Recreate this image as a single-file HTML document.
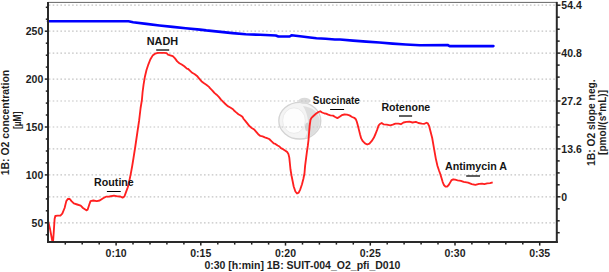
<!DOCTYPE html>
<html><head><meta charset="utf-8"><style>
html,body{margin:0;padding:0;background:#fff;width:609px;height:272px;overflow:hidden}
svg{display:block}
.t{font-family:"Liberation Sans",sans-serif;font-weight:bold;font-size:10.5px;fill:#1e1e1e}
.a{font-family:"Liberation Sans",sans-serif;font-weight:bold;font-size:10px;fill:#141414}
</style></head><body>
<svg width="609" height="272" viewBox="0 0 609 272">
<defs><filter id="bl" x="-20%" y="-20%" width="140%" height="140%"><feGaussianBlur stdDeviation="0.5"/></filter></defs>
<g filter="url(#bl)"><ellipse cx="299.8" cy="120.7" rx="21" ry="18.3" fill="#f4f4f4" stroke="#d3d3d3" stroke-width="1.3"/><ellipse cx="294" cy="120.6" rx="11.4" ry="12.8" fill="#fdfdfd" stroke="#ebebeb" stroke-width="1"/><path d="M303,106 Q318,108 320,121 Q319,134 305,138 Q309,130 308,121 Q307,112 303,106 Z" fill="#dedede"/><ellipse cx="308" cy="127" rx="3" ry="4.5" fill="#d2d2d2"/><ellipse cx="304.5" cy="100.8" rx="6" ry="3" fill="#dadada"/></g>
<line x1="48.8" y1="31.2" x2="555.3" y2="31.2" stroke="#c4c4c4" stroke-width="1.2" stroke-dasharray="1.6 2.28"/>
<line x1="48.8" y1="79.1" x2="555.3" y2="79.1" stroke="#c4c4c4" stroke-width="1.2" stroke-dasharray="1.6 2.28"/>
<line x1="48.8" y1="127.0" x2="555.3" y2="127.0" stroke="#c4c4c4" stroke-width="1.2" stroke-dasharray="1.6 2.28"/>
<line x1="48.8" y1="174.9" x2="555.3" y2="174.9" stroke="#c4c4c4" stroke-width="1.2" stroke-dasharray="1.6 2.28"/>
<line x1="48.8" y1="222.8" x2="555.3" y2="222.8" stroke="#c4c4c4" stroke-width="1.2" stroke-dasharray="1.6 2.28"/>
<line x1="48.8" y1="5.2" x2="555.3" y2="5.2" stroke="#c4c4c4" stroke-width="1.2" stroke-dasharray="1.6 2.28"/>
<line x1="48.8" y1="53.1" x2="555.3" y2="53.1" stroke="#c4c4c4" stroke-width="1.2" stroke-dasharray="1.6 2.28"/>
<line x1="48.8" y1="101.0" x2="555.3" y2="101.0" stroke="#c4c4c4" stroke-width="1.2" stroke-dasharray="1.6 2.28"/>
<line x1="48.8" y1="148.9" x2="555.3" y2="148.9" stroke="#c4c4c4" stroke-width="1.2" stroke-dasharray="1.6 2.28"/>
<line x1="48.8" y1="196.8" x2="555.3" y2="196.8" stroke="#c4c4c4" stroke-width="1.2" stroke-dasharray="1.6 2.28"/>
<polyline fill="none" stroke="#0000ff" stroke-width="2.6" stroke-linejoin="round" stroke-linecap="round" points="48,21.3 128.5,21.3 133.1,22.2 146.3,23.9 159.4,25.5 172.6,26.9 185.7,28.2 200,29.6 206.3,30.4 232.6,33.1 245.7,34.3 260,34.8 275.8,35.5 278.4,36.5 289.6,36.5 291.5,35.3 302,36.5 310,37.5 316.5,38.2 325.7,38.8 334.9,39.5 340,39.5 353.1,40.6 366.3,41.6 379.4,42.5 392.6,43.6 405.7,44.5 420,45.2 447.6,45 449.6,46.1 493.4,46.1"/>
<polyline fill="none" stroke="#ff2020" stroke-width="1.85" stroke-linejoin="round" points="48,220.8 50.1,229.3 51.6,237.4 52.4,241.5 53.1,241 53.8,231.5 54.6,219 55.3,216 57.5,215.6 60.4,215.6 62.3,213.7 64.6,208 66.3,201.1 68,198.8 69.8,199 71.5,201.1 73.8,203.4 77.2,204.5 80.7,205.7 83,208 86.4,210.3 87.6,209.7 89.3,204.5 90.5,201.1 93.3,200.5 96.8,201.1 99.7,200.5 103.1,198.2 106,196.7 109.4,196.5 114,195.6 117.5,196.3 120.3,196.5 122.6,197.6 124.4,196.5 126.1,191.9 127.8,187.3 129.8,178.6 130.9,173.1 132.2,166 133.5,158 135.3,146.5 137.2,133.5 139.1,120.7 140.6,108 141.9,100 142.6,92 143.6,84.3 144.9,76.7 146.5,70 148.4,64.3 150.3,59.5 152.6,55.6 155.1,53.7 157.9,52.8 164,52.9 166.6,53.1 168,54.6 170.2,55.3 172.8,56.2 175,58.4 177.2,61.4 179.4,63.2 181.7,64.5 184.3,66.3 186.9,68.6 188.2,69 190.4,71.1 192.2,72.8 194.8,74.2 197,75.9 199.2,78.6 201.4,81.2 203.7,83 206.3,84.7 209,86.9 210,88.2 212.2,90.3 214.4,92.9 216.6,94.7 218.8,96.9 221,99.6 223.2,101.8 225.4,104 227.7,106.2 230.3,107.5 233,109.2 234,110.5 236.2,112.4 238.4,114.2 240.6,115.5 242.4,116.8 243.7,119 245.5,121.2 247.7,123.9 249.4,126.1 251.7,127.9 254.3,129.6 256,131.6 258.2,134.2 260.4,135.9 262.6,136.4 264.8,137.3 267,138.1 269.2,139 271.4,141.2 273.7,143.4 275.4,143.9 277.6,145.5 279.5,146.5 280.9,148.1 283.1,149.2 285.4,150.7 287.2,152.1 288.4,153.9 289.3,157.6 289.9,163.5 290.5,169.5 291.5,175.5 292.6,181 293.7,186.5 295.4,191.5 297,193.5 298.7,192.6 300.3,189.3 302,184.3 303.4,178.8 304.5,173.3 305.1,165.9 306,158.8 306.9,151.8 307.8,145.9 308.5,140 309,133.5 309.6,126 310.5,119.8 311.5,117.9 313.4,116 315.9,113.8 318.4,112 320.3,111.3 322.1,112.5 324.6,113.5 326,113.6 328.2,114.7 330.4,115.4 333,115.6 335.2,117 337.4,118.1 339.6,116.7 341.8,115.2 344.4,114.5 347,114.7 349.5,115.4 352.1,117 354.3,117.8 355.8,119.2 356.9,122 357.9,125.7 359,130.1 360.1,134.5 361.2,138.4 362.8,141.2 365,143.4 367.2,144.5 369.4,143.6 371.6,141.2 373.8,137.8 375.5,134 377.2,129.6 378.5,125.7 379.9,124 381.7,123 383.8,124.4 386.8,124.7 390.2,125.3 392.8,124.7 395.4,123.6 398.4,123.6 400.9,124.2 403.5,122.5 406.5,121.9 409.5,121.7 412.5,122.5 415.9,121.9 418.4,123 421.8,123.6 424.4,123.8 426.5,122.7 427.8,123.4 429.1,126 430.4,131.1 432.2,138 434,148.3 435.8,158.6 437.5,166 439,170.5 440.3,174 441.5,178.1 442.7,182.1 443.9,185 445.5,186.6 447.1,186.6 448.7,185 450.4,182.1 451.6,180.1 453.2,179.3 455.2,179.7 457.6,180.3 460.9,180.9 463.7,181.9 468.1,182.7 471.8,184.1 475.4,184.9 479.1,183.9 482.1,183.6 484.3,184.1 487.2,183.4 490.1,183.2 492.7,182.4"/>
<line x1="48" y1="2.4" x2="556.8" y2="2.4" stroke="#666" stroke-width="1"/>
<line x1="48" y1="1.9" x2="48" y2="243" stroke="#2a2a2a" stroke-width="2"/>
<line x1="556.8" y1="1.9" x2="556.8" y2="243" stroke="#2a2a2a" stroke-width="2"/>
<line x1="47" y1="242" x2="557.8" y2="242" stroke="#2a2a2a" stroke-width="2"/>
<line x1="45.8" y1="234.8" x2="48" y2="234.8" stroke="#222" stroke-width="1.5"/>
<line x1="44.8" y1="222.8" x2="48" y2="222.8" stroke="#222" stroke-width="1.5"/>
<text x="43.3" y="226.6" text-anchor="end" class="t">50</text>
<line x1="45.8" y1="210.8" x2="48" y2="210.8" stroke="#222" stroke-width="1.5"/>
<line x1="45.8" y1="198.9" x2="48" y2="198.9" stroke="#222" stroke-width="1.5"/>
<line x1="45.8" y1="186.9" x2="48" y2="186.9" stroke="#222" stroke-width="1.5"/>
<line x1="44.8" y1="174.9" x2="48" y2="174.9" stroke="#222" stroke-width="1.5"/>
<text x="43.3" y="178.7" text-anchor="end" class="t">100</text>
<line x1="45.8" y1="162.9" x2="48" y2="162.9" stroke="#222" stroke-width="1.5"/>
<line x1="45.8" y1="151.0" x2="48" y2="151.0" stroke="#222" stroke-width="1.5"/>
<line x1="45.8" y1="139.0" x2="48" y2="139.0" stroke="#222" stroke-width="1.5"/>
<line x1="44.8" y1="127.0" x2="48" y2="127.0" stroke="#222" stroke-width="1.5"/>
<text x="43.3" y="130.8" text-anchor="end" class="t">150</text>
<line x1="45.8" y1="115.0" x2="48" y2="115.0" stroke="#222" stroke-width="1.5"/>
<line x1="45.8" y1="103.1" x2="48" y2="103.1" stroke="#222" stroke-width="1.5"/>
<line x1="45.8" y1="91.1" x2="48" y2="91.1" stroke="#222" stroke-width="1.5"/>
<line x1="44.8" y1="79.1" x2="48" y2="79.1" stroke="#222" stroke-width="1.5"/>
<text x="43.3" y="82.9" text-anchor="end" class="t">200</text>
<line x1="45.8" y1="67.1" x2="48" y2="67.1" stroke="#222" stroke-width="1.5"/>
<line x1="45.8" y1="55.2" x2="48" y2="55.2" stroke="#222" stroke-width="1.5"/>
<line x1="45.8" y1="43.2" x2="48" y2="43.2" stroke="#222" stroke-width="1.5"/>
<line x1="44.8" y1="31.2" x2="48" y2="31.2" stroke="#222" stroke-width="1.5"/>
<text x="43.3" y="35.0" text-anchor="end" class="t">250</text>
<line x1="45.8" y1="19.2" x2="48" y2="19.2" stroke="#222" stroke-width="1.5"/>
<line x1="45.8" y1="7.3" x2="48" y2="7.3" stroke="#222" stroke-width="1.5"/>
<line x1="556.8" y1="232.7" x2="559.6999999999999" y2="232.7" stroke="#222" stroke-width="1.5"/>
<line x1="556.8" y1="220.8" x2="559.6999999999999" y2="220.8" stroke="#222" stroke-width="1.5"/>
<line x1="556.8" y1="208.8" x2="559.6999999999999" y2="208.8" stroke="#222" stroke-width="1.5"/>
<line x1="556.8" y1="196.8" x2="560.5" y2="196.8" stroke="#222" stroke-width="1.5"/>
<text x="561.3" y="200.6" class="t">0</text>
<line x1="556.8" y1="184.8" x2="559.6999999999999" y2="184.8" stroke="#222" stroke-width="1.5"/>
<line x1="556.8" y1="172.9" x2="559.6999999999999" y2="172.9" stroke="#222" stroke-width="1.5"/>
<line x1="556.8" y1="160.9" x2="559.6999999999999" y2="160.9" stroke="#222" stroke-width="1.5"/>
<line x1="556.8" y1="148.9" x2="560.5" y2="148.9" stroke="#222" stroke-width="1.5"/>
<text x="561.3" y="152.7" class="t">13.6</text>
<line x1="556.8" y1="136.9" x2="559.6999999999999" y2="136.9" stroke="#222" stroke-width="1.5"/>
<line x1="556.8" y1="125.0" x2="559.6999999999999" y2="125.0" stroke="#222" stroke-width="1.5"/>
<line x1="556.8" y1="113.0" x2="559.6999999999999" y2="113.0" stroke="#222" stroke-width="1.5"/>
<line x1="556.8" y1="101.0" x2="560.5" y2="101.0" stroke="#222" stroke-width="1.5"/>
<text x="561.3" y="104.8" class="t">27.2</text>
<line x1="556.8" y1="89.0" x2="559.6999999999999" y2="89.0" stroke="#222" stroke-width="1.5"/>
<line x1="556.8" y1="77.1" x2="559.6999999999999" y2="77.1" stroke="#222" stroke-width="1.5"/>
<line x1="556.8" y1="65.1" x2="559.6999999999999" y2="65.1" stroke="#222" stroke-width="1.5"/>
<line x1="556.8" y1="53.1" x2="560.5" y2="53.1" stroke="#222" stroke-width="1.5"/>
<text x="561.3" y="56.9" class="t">40.8</text>
<line x1="556.8" y1="41.1" x2="559.6999999999999" y2="41.1" stroke="#222" stroke-width="1.5"/>
<line x1="556.8" y1="29.2" x2="559.6999999999999" y2="29.2" stroke="#222" stroke-width="1.5"/>
<line x1="556.8" y1="17.2" x2="559.6999999999999" y2="17.2" stroke="#222" stroke-width="1.5"/>
<line x1="556.8" y1="5.2" x2="560.5" y2="5.2" stroke="#222" stroke-width="1.5"/>
<text x="561.3" y="9.0" class="t">54.4</text>
<line x1="65.3" y1="242" x2="65.3" y2="244.6" stroke="#222" stroke-width="1.5"/>
<line x1="82.2" y1="242" x2="82.2" y2="244.6" stroke="#222" stroke-width="1.5"/>
<line x1="99.2" y1="242" x2="99.2" y2="244.6" stroke="#222" stroke-width="1.5"/>
<line x1="116.1" y1="242" x2="116.1" y2="245.6" stroke="#222" stroke-width="1.5"/>
<text x="116.1" y="257" text-anchor="middle" class="t">0:10</text>
<line x1="133.0" y1="242" x2="133.0" y2="244.6" stroke="#222" stroke-width="1.5"/>
<line x1="150.0" y1="242" x2="150.0" y2="244.6" stroke="#222" stroke-width="1.5"/>
<line x1="166.9" y1="242" x2="166.9" y2="244.6" stroke="#222" stroke-width="1.5"/>
<line x1="183.9" y1="242" x2="183.9" y2="244.6" stroke="#222" stroke-width="1.5"/>
<line x1="200.8" y1="242" x2="200.8" y2="245.6" stroke="#222" stroke-width="1.5"/>
<text x="200.8" y="257" text-anchor="middle" class="t">0:15</text>
<line x1="217.8" y1="242" x2="217.8" y2="244.6" stroke="#222" stroke-width="1.5"/>
<line x1="234.7" y1="242" x2="234.7" y2="244.6" stroke="#222" stroke-width="1.5"/>
<line x1="251.7" y1="242" x2="251.7" y2="244.6" stroke="#222" stroke-width="1.5"/>
<line x1="268.6" y1="242" x2="268.6" y2="244.6" stroke="#222" stroke-width="1.5"/>
<line x1="285.5" y1="242" x2="285.5" y2="245.6" stroke="#222" stroke-width="1.5"/>
<text x="285.5" y="257" text-anchor="middle" class="t">0:20</text>
<line x1="302.5" y1="242" x2="302.5" y2="244.6" stroke="#222" stroke-width="1.5"/>
<line x1="319.4" y1="242" x2="319.4" y2="244.6" stroke="#222" stroke-width="1.5"/>
<line x1="336.4" y1="242" x2="336.4" y2="244.6" stroke="#222" stroke-width="1.5"/>
<line x1="353.3" y1="242" x2="353.3" y2="244.6" stroke="#222" stroke-width="1.5"/>
<line x1="370.3" y1="242" x2="370.3" y2="245.6" stroke="#222" stroke-width="1.5"/>
<text x="370.3" y="257" text-anchor="middle" class="t">0:25</text>
<line x1="387.2" y1="242" x2="387.2" y2="244.6" stroke="#222" stroke-width="1.5"/>
<line x1="404.1" y1="242" x2="404.1" y2="244.6" stroke="#222" stroke-width="1.5"/>
<line x1="421.1" y1="242" x2="421.1" y2="244.6" stroke="#222" stroke-width="1.5"/>
<line x1="438.0" y1="242" x2="438.0" y2="244.6" stroke="#222" stroke-width="1.5"/>
<line x1="455.0" y1="242" x2="455.0" y2="245.6" stroke="#222" stroke-width="1.5"/>
<text x="455.0" y="257" text-anchor="middle" class="t">0:30</text>
<line x1="471.9" y1="242" x2="471.9" y2="244.6" stroke="#222" stroke-width="1.5"/>
<line x1="488.9" y1="242" x2="488.9" y2="244.6" stroke="#222" stroke-width="1.5"/>
<line x1="505.8" y1="242" x2="505.8" y2="244.6" stroke="#222" stroke-width="1.5"/>
<line x1="522.8" y1="242" x2="522.8" y2="244.6" stroke="#222" stroke-width="1.5"/>
<line x1="539.7" y1="242" x2="539.7" y2="245.6" stroke="#222" stroke-width="1.5"/>
<text x="539.7" y="257" text-anchor="middle" class="t">0:35</text>
<text x="204.4" y="269.1" class="t" textLength="196" lengthAdjust="spacingAndGlyphs">0:30 [h:min] 1B: SUIT-004_O2_pfi_D010</text>
<text transform="translate(9.4,175.3) rotate(-90)" class="t" textLength="105.5" lengthAdjust="spacingAndGlyphs">1B: O2 concentration</text>
<text transform="translate(20.9,129.1) rotate(-90)" class="t" textLength="17.6" lengthAdjust="spacingAndGlyphs">[µM]</text>
<text transform="translate(594.5,165.9) rotate(-90)" class="t" textLength="86.6" lengthAdjust="spacingAndGlyphs">1B: O2 slope neg.</text>
<text transform="translate(605.6,154.9) rotate(-90)" class="t" textLength="65" lengthAdjust="spacingAndGlyphs">[pmol/(s*mL)]</text>
<text x="113.95" y="186.0" text-anchor="middle" class="a" textLength="39.7" lengthAdjust="spacingAndGlyphs">Routine</text>
<line x1="106.9" y1="191.5" x2="120.7" y2="191.5" stroke="#000" stroke-width="1"/>
<text x="162.45" y="45.0" text-anchor="middle" class="a" textLength="31.4" lengthAdjust="spacingAndGlyphs">NADH</text>
<line x1="156.2" y1="50.0" x2="169.2" y2="50.0" stroke="#000" stroke-width="1.25"/>
<text x="336.35" y="103.9" text-anchor="middle" class="a" textLength="47.0" lengthAdjust="spacingAndGlyphs">Succinate</text>
<line x1="330.1" y1="109.5" x2="344.1" y2="109.5" stroke="#000" stroke-width="1"/>
<text x="405.85" y="110.7" text-anchor="middle" class="a" textLength="48.8" lengthAdjust="spacingAndGlyphs">Rotenone</text>
<line x1="399" y1="116.0" x2="412.1" y2="116.0" stroke="#000" stroke-width="1.25"/>
<text x="476.05" y="170.1" text-anchor="middle" class="a" textLength="62" lengthAdjust="spacingAndGlyphs">Antimycin A</text>
<line x1="466.2" y1="176.0" x2="480" y2="176.0" stroke="#000" stroke-width="1.25"/>
</svg>
</body></html>
